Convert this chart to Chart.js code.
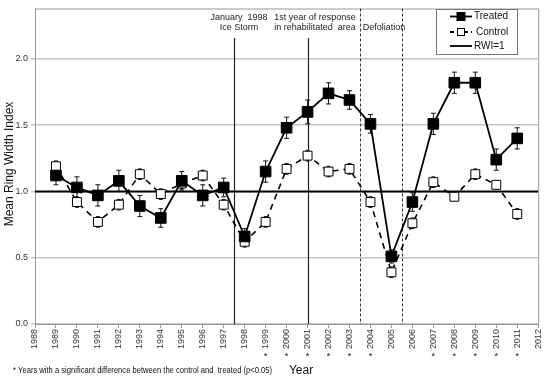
<!DOCTYPE html>
<html>
<head>
<meta charset="utf-8">
<script src="https://cdn.jsdelivr.net/npm/chart.js@4/dist/chart.umd.min.js"></script>
<style>
  html, body { margin: 0; padding: 0; background: #fff; }
  #wrap { width: 550px; height: 380px; position: relative; }
</style>
</head>
<body>
<div id="wrap"><canvas id="rwiChart"></canvas></div>
<script>
const years = [1989, 1990, 1991, 1992, 1993, 1994, 1995, 1996, 1997, 1998, 1999, 2000,
               2001, 2002, 2003, 2004, 2005, 2006, 2007, 2008, 2009, 2010, 2011];
const treated = [1.12, 1.03, 0.97, 1.08, 0.89, 0.80, 1.08, 0.97, 1.03, 0.66, 1.15, 1.48,
                 1.60, 1.74, 1.69, 1.51, 0.51, 0.92, 1.51, 1.82, 1.82, 1.24, 1.40];
const control = [1.19, 0.92, 0.77, 0.90, 1.13, 0.98, 1.06, 1.12, 0.90, 0.62, 0.77, 1.17,
                 1.27, 1.15, 1.17, 0.92, 0.39, 0.76, 1.07, 0.96, 1.13, 1.05, 0.83];
const treatedErr = [0.07, 0.08, 0.08, 0.08, 0.08, 0.07, 0.07, 0.08, 0.07, 0.06, 0.08, 0.08,
                    0.09, 0.08, 0.07, 0.07, 0.05, 0.07, 0.08, 0.08, 0.08, 0.08, 0.08];
const controlErr = [0.04, 0.04, 0.04, 0.04, 0.04, 0.04, 0.04, 0.04, 0.04, 0.04, 0.04, 0.04,
                    0.04, 0.04, 0.04, 0.04, 0.04, 0.04, 0.04, 0.03, 0.04, 0.03, 0.04];
const sigYears = [1999, 2000, 2001, 2002, 2003, 2004, 2007, 2008, 2009, 2010, 2011];
// vertical event markers: [year, dashed?]
const events = [[1997.5, false], [2001, false], [2003.5, true], [2005.5, true]];

const FONT = '"Liberation Sans", Arial, sans-serif';

// error bars, drawn under the markers
const errorBars = {
  id: 'errorBars',
  beforeDatasetsDraw(chart) {
    const { ctx, scales: { x, y } } = chart;
    ctx.save();
    ctx.strokeStyle = '#111';
    ctx.lineWidth = 1;
    [[treated, treatedErr, 2.5], [control, controlErr, 2]].forEach(([vals, errs, cap]) => {
      vals.forEach((v, i) => {
        const px = x.getPixelForValue(years[i]);
        const top = y.getPixelForValue(v + errs[i]);
        const bot = y.getPixelForValue(v - errs[i]);
        ctx.beginPath();
        ctx.moveTo(px, top); ctx.lineTo(px, bot);
        ctx.moveTo(px - cap, top); ctx.lineTo(px + cap, top);
        ctx.moveTo(px - cap, bot); ctx.lineTo(px + cap, bot);
        ctx.stroke();
      });
    });
    ctx.restore();
  }
};

// event lines, plot frame, legend box and surrounding text
const decorations = {
  id: 'decorations',
  beforeDatasetsDraw(chart) {
    const { ctx, chartArea: a, scales: { x } } = chart;
    ctx.save();
    ctx.strokeStyle = '#999';
    ctx.lineWidth = 1;
    ctx.strokeRect(a.left + 0.5, a.top + 0.5, a.right - a.left, a.bottom - a.top);
    events.forEach(([yr, dashed]) => {
      const px = Math.round(x.getPixelForValue(yr)) + 0.5;
      ctx.beginPath();
      ctx.strokeStyle = dashed ? '#333' : '#222';
      ctx.lineWidth = dashed ? 1 : 1.2;
      ctx.setLineDash(dashed ? [3, 2] : []);
      ctx.moveTo(px, dashed ? a.top : 38);
      ctx.lineTo(px, a.bottom);
      ctx.stroke();
    });
    ctx.restore();
  },
  afterDraw(chart) {
    const { ctx, scales: { x } } = chart;
    ctx.save();
    ctx.fillStyle = '#222';
    ctx.textAlign = 'center';
    ctx.textBaseline = 'middle';
    ctx.font = '9px ' + FONT;
    ctx.fillText('January  1998', 239, 18);
    ctx.fillText('Ice Storm', 239, 28);
    ctx.fillText('1st year of response', 315, 18);
    ctx.fillText('in rehabilitated  area', 315, 28);
    ctx.fillText('Defoliation', 384, 28);

    // legend
    ctx.fillStyle = '#fff';
    ctx.fillRect(436, 9, 81, 45);
    ctx.strokeStyle = '#777';
    ctx.lineWidth = 1;
    ctx.strokeRect(436.5, 9.5, 81, 45);
    ctx.strokeStyle = '#000';
    ctx.lineWidth = 1.8;
    // treated
    ctx.beginPath(); ctx.moveTo(450, 16.5); ctx.lineTo(472, 16.5); ctx.stroke();
    ctx.fillStyle = '#000';
    ctx.fillRect(456.5, 12, 9, 9);
    // control
    ctx.setLineDash([4, 3]);
    ctx.beginPath(); ctx.moveTo(450, 32); ctx.lineTo(472, 32); ctx.stroke();
    ctx.setLineDash([]);
    ctx.fillStyle = '#fff';
    ctx.lineWidth = 1;
    ctx.fillRect(457.5, 28.5, 7, 7);
    ctx.strokeRect(457.5, 28.5, 7, 7);
    // rwi
    ctx.lineWidth = 1.8;
    ctx.beginPath(); ctx.moveTo(450, 46); ctx.lineTo(472, 46); ctx.stroke();
    ctx.fillStyle = '#111';
    ctx.textAlign = 'left';
    ctx.font = '10px ' + FONT;
    ctx.fillText('Treated', 474, 16.5);
    ctx.fillText('Control', 476, 32);
    ctx.fillText('RWI=1', 474, 46);

    // significance asterisks
    ctx.textAlign = 'center';
    ctx.font = '9px ' + FONT;
    sigYears.forEach(yr => ctx.fillText('*', x.getPixelForValue(yr), 357));

    // axis titles and note
    ctx.font = '12px ' + FONT;
    ctx.fillText('Year', 301, 371);
    ctx.save();
    ctx.translate(10, 164);
    ctx.rotate(-Math.PI / 2);
    ctx.fillText('Mean Ring Width Index', 0, 0);
    ctx.restore();
    ctx.textAlign = 'left';
    ctx.font = '9px ' + FONT;
    ctx.fillText('* Years with a significant difference between the control and  treated (p<0.05)', 13, 371, 259);
    ctx.restore();
  }
};

const pts = arr => arr.map((v, i) => ({ x: years[i], y: v }));

new Chart(document.getElementById('rwiChart'), {
  type: 'line',
  data: {
    datasets: [
      {
        label: 'Treated',
        data: pts(treated),
        borderColor: '#000',
        borderWidth: 1.8,
        pointStyle: 'rect',
        pointRadius: 7.5,
        pointBackgroundColor: '#000',
        pointBorderColor: '#000',
        pointBorderWidth: 1
      },
      {
        label: 'Control',
        data: pts(control),
        borderColor: '#000',
        borderWidth: 1.6,
        borderDash: [6, 5],
        pointStyle: 'rect',
        pointRadius: 6.3,
        pointBackgroundColor: '#fff',
        pointBorderColor: '#000',
        pointBorderWidth: 1
      },
      {
        label: 'RWI=1',
        data: [{ x: 1988, y: 1 }, { x: 2012, y: 1 }],
        borderColor: '#000',
        borderWidth: 2,
        pointRadius: 0
      }
    ]
  },
  options: {
    responsive: true,
    maintainAspectRatio: false,
    animation: false,
    events: [],
    layout: { padding: { top: 4, right: 8, left: 0, bottom: 0 } },
    scales: {
      x: {
        type: 'linear',
        min: 1988,
        max: 2012,
        afterFit: s => { s.height = 56; },
        border: { color: '#999', width: 1 },
        grid: { drawOnChartArea: false, tickLength: 4, color: '#999' },
        ticks: {
          stepSize: 1,
          minRotation: 90,
          maxRotation: 90,
          padding: 1,
          color: '#333',
          font: { family: FONT, size: 9 },
          callback: v => String(v)
        }
      },
      y: {
        min: 0,
        max: 2.38,
        afterFit: s => { s.width = 35; },
        afterBuildTicks: s => { s.ticks = s.ticks.filter(t => t.value <= 2.0001); },
        border: { color: '#999', width: 1 },
        grid: { color: '#c4c4c4', lineWidth: 1.5, tickLength: 4 },
        ticks: {
          stepSize: 0.5,
          includeBounds: false,
          padding: 3,
          color: '#333',
          font: { family: FONT, size: 9 },
          callback: v => v.toFixed(1)
        }
      }
    },
    plugins: {
      legend: { display: false },
      tooltip: { enabled: false }
    }
  },
  plugins: [errorBars, decorations]
});
</script>
</body>
</html>
